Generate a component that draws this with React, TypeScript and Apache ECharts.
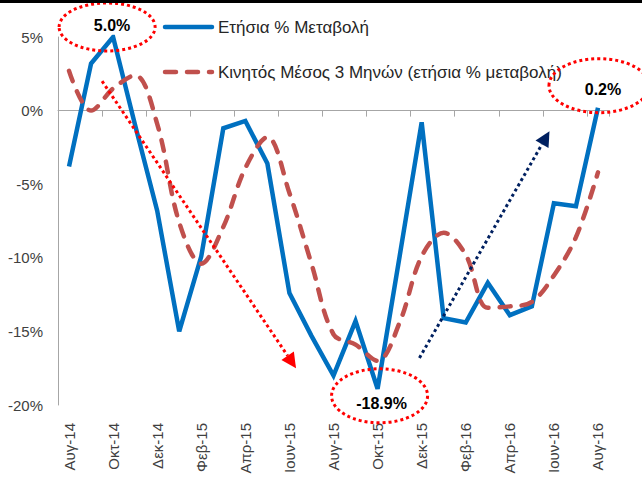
import React, { useEffect, useRef } from "react";
import * as echarts from "echarts";

const months = [
  "Αυγ-14", "Σεπ-14", "Οκτ-14", "Νοε-14", "Δεκ-14", "Ιαν-15", "Φεβ-15", "Μαρ-15", "Απρ-15",
  "Μαϊ-15", "Ιουν-15", "Ιουλ-15", "Αυγ-15", "Σεπ-15", "Οκτ-15", "Νοε-15", "Δεκ-15", "Ιαν-16",
  "Φεβ-16", "Μαρ-16", "Απρ-16", "Μαϊ-16", "Ιουν-16", "Ιουλ-16", "Αυγ-16",
];
const annualChange = [
  -3.8, 3.2, 5.0, -1.0, -6.8, -15.0, -9.9, -1.2, -0.7, -3.6, -12.4, -15.3, -18.0, -14.3, -18.9,
  -9.9, -0.8, -14.1, -14.4, -11.7, -13.9, -13.3, -6.3, -6.5, 0.2,
];
const movingAvg3m = [
  2.7, 0.0, 1.5, 2.4, -0.9, -7.6, -10.4, -7.9, -3.9, -1.8, -5.6, -10.4, -15.2, -15.9, -17.0,
  -14.4, -9.9, -8.3, -9.8, -13.4, -13.3, -13.0, -11.2, -8.6, -4.2,
];
const seriesNames = ["Ετήσια % Μεταβολή", "Κινητός Μέσος 3 Μηνών (ετήσια % μεταβολή)"];
const seriesColors = ["#0070C0", "#C0504D"];
const yMin = -20;
const yMax = 5;
const yStep = 5;

// highlighted points of the annual series (index into months)
const calloutIdx = [2, 24, 14];
// trend arrows in data space: [startIndex, startValue, endIndex, endValue]
const trendArrows = [
  [1.5, 2.0, 10.3, -17.5],
  [15.9, -16.8, 21.8, -1.4],
];

const FONT = "'Liberation Sans', Arial, sans-serif";
const RED_DASH = [11, 11];

export default function App() {
  const ref = useRef<HTMLDivElement>(null);
  useEffect(() => {
    if (!ref.current) return;
    const chart = echarts.init(ref.current, undefined, { renderer: "svg" });
    chart.setOption({
      animation: false,
      backgroundColor: "#ffffff",
      textStyle: { fontFamily: FONT },
      grid: { left: 58, right: 33, top: 37, bottom: 73, containLabel: false },
      xAxis: [
        {
          type: "category",
          data: months,
          boundaryGap: true,
          axisLine: { onZero: true, lineStyle: { color: "#A6A6A6", width: 1 } },
          axisTick: { show: true, interval: 1, length: 6, lineStyle: { color: "#A6A6A6" } },
          axisLabel: { show: false },
          splitLine: { show: false },
        },
        {
          type: "category",
          data: months,
          position: "bottom",
          boundaryGap: true,
          axisLine: { show: false, onZero: false },
          axisTick: { show: false },
          axisLabel: {
            interval: 1,
            rotate: 90,
            margin: 18,
            fontSize: 15,
            color: "#404040",
            fontFamily: FONT,
          },
          splitLine: { show: false },
        },
      ],
      yAxis: {
        type: "value",
        min: yMin,
        max: yMax,
        interval: yStep,
        axisLine: { show: true, lineStyle: { color: "#A6A6A6" } },
        axisTick: { show: false },
        axisLabel: {
          formatter: "{value}%",
          fontSize: 15,
          color: "#404040",
          margin: 15,
          fontFamily: FONT,
        },
        splitLine: { show: false },
      },
      series: [
        {
          name: seriesNames[0],
          type: "line",
          data: annualChange,
          xAxisIndex: 0,
          symbol: "none",
          lineStyle: { color: seriesColors[0], width: 4.5, join: "miter" },
          itemStyle: { color: seriesColors[0] },
          z: 2,
        },
        {
          name: seriesNames[1],
          type: "line",
          data: movingAvg3m,
          xAxisIndex: 0,
          symbol: "none",
          smooth: 0.35,
          lineStyle: { color: seriesColors[1], width: 4.5, type: RED_DASH, cap: "round" },
          itemStyle: { color: seriesColors[1] },
          z: 3,
        },
      ],
    });

    const p0 = chart.convertToPixel({ seriesIndex: 0 }, [0, 0]) as number[];
    const p1 = chart.convertToPixel({ seriesIndex: 0 }, [1, 0]) as number[];
    const step = p1[0] - p0[0];
    const pt = (i: number, v: number) => {
      const y = (chart.convertToPixel({ seriesIndex: 0 }, [0, v]) as number[])[1];
      return [p0[0] + i * step, y];
    };

    const graphics: any[] = [
      { type: "rect", left: 0, top: 0, shape: { width: 642, height: 3 }, style: { fill: "#000" }, z: 100 },
    ];

    // legend
    const legendX = 165;
    const legendY = [27, 72];
    seriesNames.forEach((name, k) => {
      graphics.push({
        type: "line",
        shape: { x1: legendX, y1: legendY[k], x2: legendX + 47, y2: legendY[k] },
        style: {
          stroke: seriesColors[k],
          lineWidth: 4.5,
          lineCap: "round",
          lineDash: k === 1 ? RED_DASH : null,
        },
        z: 40,
      });
      graphics.push({
        type: "text",
        x: legendX + 53,
        y: legendY[k],
        style: {
          text: name,
          fontSize: 17,
          fontFamily: FONT,
          fill: "#262626",
          align: "left",
          verticalAlign: "middle",
        },
        z: 40,
      });
    });

    const calloutStyle = [
      { dx: -6, dy: -10, rx: 48, ry: 24, tdx: -1, tdy: -12 },
      { dx: 1, dy: -22, rx: 50, ry: 27, tdx: 5, tdy: -18 },
      { dx: 2, dy: 7, rx: 48, ry: 27, tdx: 4, tdy: 15 },
    ];
    calloutIdx.forEach((idx, k) => {
      const [x, y] = pt(idx, annualChange[idx]);
      const s = calloutStyle[k];
      graphics.push({
        type: "ellipse",
        shape: { cx: x + s.dx, cy: y + s.dy, rx: s.rx, ry: s.ry },
        style: { fill: "none", stroke: "#FF0000", lineWidth: 3, lineDash: [3, 3] },
        z: 50,
      });
      graphics.push({
        type: "text",
        x: x + s.tdx,
        y: y + s.tdy,
        style: {
          text: annualChange[idx].toFixed(1) + "%",
          fontSize: 16,
          fontWeight: "bold",
          fontFamily: FONT,
          fill: "#000",
          align: "center",
          verticalAlign: "middle",
        },
        z: 51,
      });
    });
    const arrowColors = ["#FF0000", "#002060"];
    trendArrows.forEach((a, k) => {
      const [sx, sy] = pt(a[0], a[1]);
      const [ex, ey] = pt(a[2], a[3]);
      const dx = ex - sx;
      const dy = ey - sy;
      const len = Math.sqrt(dx * dx + dy * dy);
      const ux = dx / len;
      const uy = dy / len;
      const hl = 15;
      const hw = 7.5;
      const bx = ex - ux * hl;
      const by = ey - uy * hl;
      graphics.push({
        type: "line",
        shape: { x1: sx, y1: sy, x2: bx, y2: by },
        style: { stroke: arrowColors[k], lineWidth: 3, lineDash: [3, 3] },
        z: 50,
      });
      graphics.push({
        type: "polygon",
        shape: {
          points: [
            [ex, ey],
            [bx - uy * hw, by + ux * hw],
            [bx + uy * hw, by - ux * hw],
          ],
        },
        style: { fill: arrowColors[k] },
        z: 50,
      });
    });
    chart.setOption({ graphic: graphics });

    return () => chart.dispose();
  }, []);
  return (
    <div
      ref={ref}
      style={{ position: "fixed", left: 0, top: 0, width: 642, height: 478, background: "#fff" }}
    />
  );
}
